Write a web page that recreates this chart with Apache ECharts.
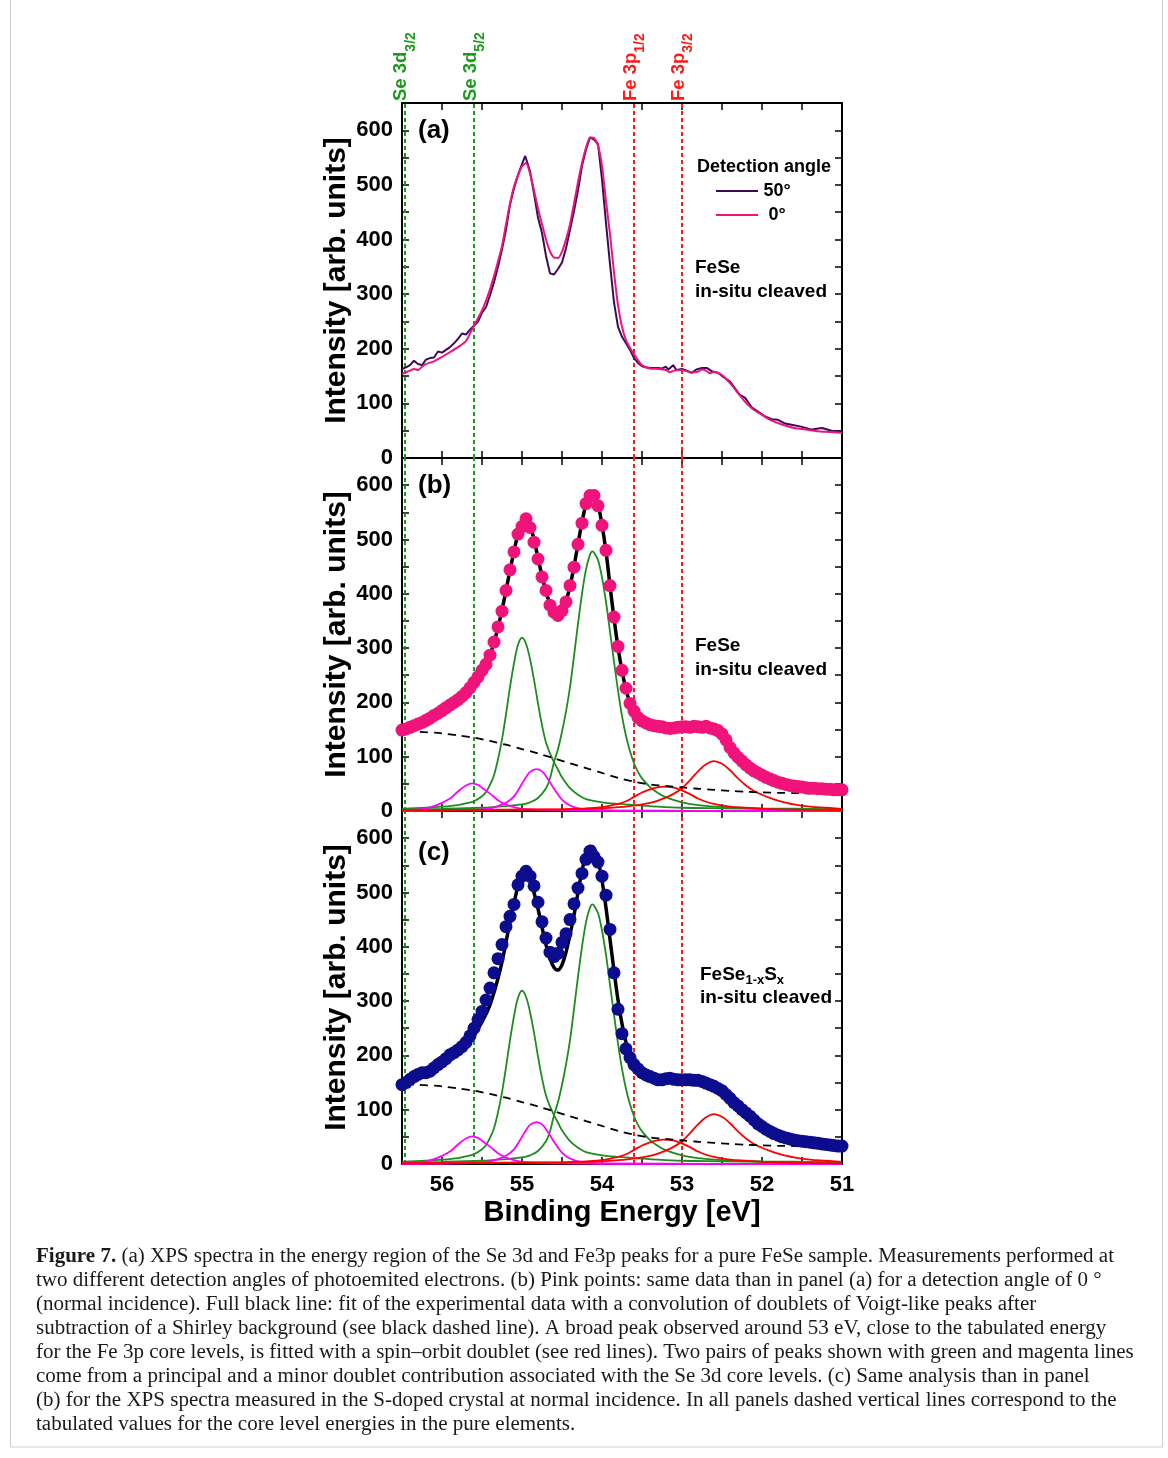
<!DOCTYPE html>
<html>
<head>
<meta charset="utf-8">
<script src="https://cdn.jsdelivr.net/npm/echarts@6.0.0/dist/echarts.min.js"></script>
<style>
  html, body { margin: 0; padding: 0; background: #fff; }
  #chart { width: 1168px; height: 1458px; }
</style>
</head>
<body>
<div id="chart"></div>
<script>
// binding energy grid of the measured points (eV), panels (b) and (c)
const energyGrid = [
  56.5, 56.45, 56.4, 56.35, 56.3, 56.25, 56.2, 56.15, 56.1, 56.05,
  56, 55.95, 55.9, 55.85, 55.8, 55.75, 55.7, 55.65, 55.6, 55.55,
  55.5, 55.45, 55.4, 55.35, 55.3, 55.25, 55.2, 55.15, 55.1, 55.05,
  55, 54.95, 54.9, 54.85, 54.8, 54.75, 54.7, 54.65, 54.6, 54.55,
  54.5, 54.45, 54.4, 54.35, 54.3, 54.25, 54.2, 54.15, 54.1, 54.05,
  54, 53.95, 53.9, 53.85, 53.8, 53.75, 53.7, 53.65, 53.6, 53.55,
  53.5, 53.45, 53.4, 53.35, 53.3, 53.25, 53.2, 53.15, 53.1, 53.05,
  53, 52.95, 52.9, 52.85, 52.8, 52.75, 52.7, 52.65, 52.6, 52.55,
  52.5, 52.45, 52.4, 52.35, 52.3, 52.25, 52.2, 52.15, 52.1, 52.05,
  52, 51.95, 51.9, 51.85, 51.8, 51.75, 51.7, 51.65, 51.6, 51.55,
  51.5, 51.45, 51.4, 51.35, 51.3, 51.25, 51.2, 51.15, 51.1, 51.05,
  51
];

// (b) FeSe, 0 deg, pink points
const pinkDots = [
  149, 151, 154, 157, 160, 163, 167, 171, 176, 180,
  185, 190, 195, 200, 205, 211, 218, 227, 237, 247,
  259, 270, 287, 311, 339, 368, 406, 444, 477, 510,
  524, 538, 522, 495, 464, 431, 406, 379, 366, 360,
  369, 385, 415, 449, 491, 530, 566, 581, 581, 562,
  526, 480, 415, 357, 303, 259, 226, 198, 184, 172,
  166, 162, 159, 157, 156, 155, 153, 152, 153, 154,
  155, 155, 154, 156, 155, 154, 156, 153, 151, 148,
  142, 131, 117, 107, 99, 92, 85, 79, 74, 70,
  66, 62, 59, 56, 53, 51, 49, 47, 46, 45,
  44, 43, 42, 42, 41, 41, 40, 40, 39, 39,
  39
];

// (c) FeSe1-xSx, blue points
const blueDots = [
  146, 150, 156, 161, 165, 168, 168, 171, 177, 183,
  188, 194, 201, 205, 210, 216, 224, 236, 250, 266,
  281, 302, 324, 352, 378, 404, 437, 456, 478, 514,
  530, 539, 530, 512, 482, 446, 416, 390, 382, 388,
  408, 424, 450, 479, 508, 535, 561, 576, 566, 556,
  530, 495, 432, 352, 285, 240, 212, 196, 183, 175,
  168, 164, 161, 158, 155, 155, 157, 158, 156, 155,
  155, 155, 155, 154, 154, 152, 149, 146, 143, 139,
  135, 128, 121, 113, 107, 100, 94, 88, 81, 74,
  69, 64, 60, 56, 53, 50, 48, 46, 44, 43,
  42, 41, 40, 39, 38, 37, 36, 35, 34, 33,
  33
];

// (a) detection angle 50 deg  [energy, intensity]
const angle50 = [
  [56.5, 163], [56.45, 166], [56.4, 170], [56.35, 178], [56.3, 172], [56.25, 170], [56.2, 180],
  [56.15, 183], [56.1, 184], [56.05, 195], [56, 193], [55.95, 198], [55.9, 203], [55.85, 210],
  [55.8, 218], [55.75, 228], [55.7, 226], [55.65, 235], [55.6, 242], [55.55, 250], [55.5, 266],
  [55.45, 276], [55.4, 298], [55.35, 322], [55.3, 350], [55.25, 382], [55.2, 418], [55.15, 464],
  [55.1, 494], [55.05, 518], [55, 538], [54.96, 553], [54.9, 525], [54.85, 484], [54.8, 440],
  [54.75, 412], [54.7, 370], [54.65, 338], [54.6, 336], [54.55, 346], [54.5, 358], [54.45, 384],
  [54.4, 418], [54.35, 452], [54.3, 490], [54.25, 535], [54.2, 565], [54.15, 587], [54.1, 583],
  [54.05, 575], [54, 510], [53.95, 430], [53.9, 355], [53.85, 285], [53.8, 240], [53.75, 222],
  [53.7, 210], [53.65, 198], [53.6, 183], [53.55, 174], [53.5, 168], [53.45, 166], [53.4, 165],
  [53.3, 165], [53.25, 164], [53.2, 167], [53.17, 162], [53.11, 170], [53.07, 161], [53, 163],
  [52.94, 160], [52.88, 156], [52.82, 162], [52.75, 165], [52.69, 165], [52.63, 159], [52.55, 156],
  [52.48, 148], [52.4, 140], [52.34, 128], [52.28, 116], [52.21, 110], [52.13, 93], [52.05, 85],
  [51.96, 76], [51.88, 71], [51.8, 70], [51.71, 63], [51.63, 61], [51.5, 57], [51.38, 52],
  [51.25, 55], [51.13, 50], [51, 49]
];

// (a) detection angle 0 deg
const angle0 = [
  [56.5, 154], [56.45, 157], [56.4, 160], [56.35, 163], [56.3, 161], [56.25, 167], [56.2, 172],
  [56.1, 177], [56, 185], [55.9, 194], [55.8, 203], [55.7, 214], [55.65, 228], [55.6, 242],
  [55.55, 256], [55.5, 270], [55.45, 288], [55.4, 309], [55.35, 333], [55.3, 360], [55.25, 388],
  [55.2, 428], [55.15, 466], [55.1, 497], [55.05, 518], [55, 534], [54.95, 540], [54.9, 521],
  [54.85, 490], [54.8, 457], [54.75, 428], [54.7, 400], [54.65, 378], [54.6, 367], [54.55, 366],
  [54.5, 378], [54.45, 400], [54.4, 428], [54.35, 466], [54.3, 505], [54.25, 540], [54.2, 568],
  [54.15, 587], [54.1, 586], [54.05, 572], [54, 535], [53.95, 470], [53.9, 410], [53.85, 340],
  [53.8, 280], [53.75, 240], [53.7, 216], [53.65, 202], [53.6, 190], [53.5, 170], [53.4, 164],
  [53.3, 163], [53.2, 161], [53.15, 157], [53.1, 160], [53, 161], [52.9, 157], [52.8, 158],
  [52.75, 162], [52.7, 160], [52.65, 155], [52.6, 158], [52.5, 152], [52.4, 137], [52.3, 119],
  [52.2, 101], [52.1, 88], [52, 79], [51.9, 70], [51.8, 64], [51.7, 59], [51.6, 55], [51.5, 53],
  [51.4, 51], [51.3, 49], [51.2, 48], [51.1, 47], [51, 46]
];

// full fit, panel (b)
const fitB = [
  [56.5, 149], [56.4, 154], [56.3, 160], [56.2, 167], [56.1, 175], [56, 184], [55.9, 194],
  [55.8, 205], [55.7, 218], [55.6, 236], [55.5, 259], [55.45, 272], [55.4, 288], [55.35, 310],
  [55.3, 338], [55.25, 370], [55.2, 406], [55.15, 443], [55.1, 478], [55.05, 510], [55, 530],
  [54.95, 537], [54.9, 526], [54.85, 500], [54.8, 466], [54.75, 433], [54.7, 404], [54.65, 381],
  [54.6, 366], [54.55, 362], [54.5, 368], [54.45, 386], [54.4, 414], [54.35, 450], [54.3, 492],
  [54.25, 532], [54.2, 565], [54.15, 583], [54.1, 584], [54.05, 565], [54, 527], [53.95, 478],
  [53.9, 415], [53.85, 355], [53.8, 302], [53.75, 258], [53.7, 224], [53.65, 199], [53.6, 183],
  [53.5, 166], [53.4, 159], [53.3, 156], [53.2, 154], [53.1, 153], [53, 154], [52.9, 155],
  [52.8, 155], [52.7, 154], [52.6, 150], [52.5, 140], [52.4, 119], [52.3, 100], [52.2, 86],
  [52.1, 75], [52, 66], [51.9, 59], [51.8, 53], [51.7, 49], [51.6, 46], [51.5, 44], [51.4, 42],
  [51.3, 41], [51.2, 40], [51.1, 39], [51, 39]
];

// full fit, panel (c)
const fitC = [
  [56.5, 146], [56.4, 152], [56.3, 158], [56.2, 165], [56.1, 173], [56, 182], [55.9, 192],
  [55.8, 204], [55.7, 218], [55.6, 236], [55.5, 262], [55.45, 276], [55.4, 293], [55.35, 316],
  [55.3, 342], [55.25, 372], [55.2, 409], [55.15, 445], [55.1, 480], [55.05, 512], [55, 532],
  [54.95, 540], [54.9, 528], [54.85, 500], [54.8, 470], [54.75, 436], [54.7, 404], [54.65, 378],
  [54.6, 362], [54.55, 357], [54.5, 367], [54.45, 390], [54.4, 422], [54.35, 458], [54.3, 500],
  [54.25, 540], [54.2, 570], [54.15, 585], [54.1, 582], [54.05, 560], [54, 522], [53.95, 472],
  [53.9, 414], [53.85, 356], [53.8, 302], [53.75, 258], [53.7, 224], [53.65, 200], [53.6, 185],
  [53.5, 168], [53.4, 160], [53.3, 156], [53.2, 155], [53.1, 155], [53, 155], [52.9, 156],
  [52.8, 156], [52.7, 154], [52.6, 148], [52.5, 137], [52.4, 120], [52.3, 103], [52.2, 88],
  [52.1, 76], [52, 66], [51.9, 57], [51.8, 51], [51.7, 46], [51.6, 42], [51.5, 39], [51.4, 37],
  [51.3, 35], [51.2, 34], [51.1, 33], [51, 32]
];

// Shirley background (dashed)
const shirleyBg = [
  [56.45, 147], [56.3, 146], [56, 143], [55.8, 139], [55.6, 135], [55.4, 129], [55.2, 122],
  [55, 114], [54.8, 106], [54.6, 97], [54.4, 88], [54.2, 79], [54, 70], [53.8, 61], [53.6, 54],
  [53.4, 49], [53.2, 46], [53, 43.5], [52.8, 41], [52.6, 39], [52.4, 37], [52.2, 35.5],
  [52, 34.5], [51.8, 33.5], [51.6, 33], [51.4, 32.5]
];

// Se 3d principal doublet (green)
const seMajorA = [
  [56.5, 4], [56.2, 6], [56, 8], [55.8, 11], [55.7, 14], [55.6, 18], [55.5, 27], [55.45, 35],
  [55.4, 48], [55.35, 66], [55.3, 95], [55.25, 132], [55.2, 178], [55.15, 228], [55.1, 272],
  [55.05, 306], [55, 319], [54.95, 308], [54.9, 280], [54.85, 242], [54.8, 198], [54.75, 158],
  [54.7, 126], [54.65, 106], [54.6, 90], [54.55, 76], [54.5, 62], [54.4, 42], [54.3, 30],
  [54.2, 22], [54, 16], [53.8, 13], [53.6, 11], [53.3, 8], [53, 6], [52.5, 5], [52, 4],
  [51.5, 3], [51, 3]
];
const seMajorB = [
  [56.5, 3], [56, 4], [55.5, 6], [55.2, 9], [55, 12], [54.9, 16], [54.8, 24], [54.7, 42],
  [54.65, 60], [54.6, 90], [54.55, 114], [54.5, 146], [54.45, 183], [54.4, 228], [54.35, 285],
  [54.3, 345], [54.25, 400], [54.2, 445], [54.15, 472], [54.12, 478], [54.1, 476], [54.05, 462],
  [54, 430], [53.95, 385], [53.9, 330], [53.85, 275], [53.8, 222], [53.75, 175], [53.7, 138],
  [53.65, 110], [53.6, 88], [53.55, 72], [53.5, 60], [53.4, 44], [53.3, 33], [53.2, 25],
  [53, 16], [52.8, 11], [52.5, 7], [52, 5], [51, 3]
];

// Se 3d minor doublet (magenta)
const seMinorA = [
  [56.5, 1.5], [56.3, 3], [56.2, 5], [56.1, 9], [56, 15], [55.9, 23], [55.8, 36], [55.7, 47],
  [55.62, 51], [55.55, 48], [55.5, 43], [55.4, 32], [55.3, 20], [55.2, 12], [55.1, 7], [55, 4],
  [54.8, 2], [54.5, 1], [54, 0.5], [51, 0]
];
const seMinorB = [
  [56.5, 0], [56, 0.5], [55.6, 2], [55.4, 5], [55.3, 9], [55.2, 15], [55.1, 27], [55, 50],
  [54.95, 62], [54.9, 72], [54.82, 77], [54.75, 73], [54.7, 64], [54.6, 41], [54.5, 21],
  [54.4, 10], [54.3, 5], [54.2, 3], [54, 1], [53.5, 0.5], [51, 0]
];

// Fe 3p doublet (red)
const feA = [
  [56.5, 1], [55.5, 2], [55, 3], [54.5, 3], [54.2, 5], [54, 7], [53.8, 13], [53.7, 18],
  [53.6, 26], [53.5, 34], [53.4, 40], [53.3, 44], [53.23, 45], [53.1, 43], [53, 38], [52.9, 31],
  [52.8, 23], [52.7, 17], [52.6, 13], [52.4, 8], [52.2, 6], [52, 4], [51.5, 2], [51, 1]
];
const feB = [
  [56.5, 1], [55, 2], [54.5, 3], [54, 5], [53.8, 7], [53.6, 10], [53.4, 15], [53.3, 19],
  [53.2, 25], [53.1, 32], [53, 42], [52.9, 57], [52.8, 73], [52.7, 86], [52.6, 92], [52.5, 87],
  [52.4, 75], [52.3, 60], [52.2, 47], [52.1, 37], [52, 30], [51.9, 24], [51.8, 19], [51.6, 12],
  [51.4, 8], [51.2, 6], [51, 4]
];

// tabulated core level energies (dotted verticals)
const coreLevels = [56.47, 55.6, 53.6, 53.0];
const coreNames = ['Se 3d', 'Se 3d', 'Fe 3p', 'Fe 3p'];
const coreSubs = ['3/2', '5/2', '1/2', '3/2'];

const captionLines = [
  ' (a) XPS spectra in the energy region of the Se 3d and Fe3p peaks for a pure FeSe sample. Measurements performed at',
  'two different detection angles of photoemited electrons. (b) Pink points: same data than in panel (a) for a detection angle of 0 °',
  '(normal incidence). Full black line: fit of the experimental data with a convolution of doublets of Voigt-like peaks after',
  'subtraction of a Shirley background (see black dashed line). A broad peak observed around 53 eV, close to the tabulated energy',
  'for the Fe 3p core levels, is fitted with a spin\u2013orbit doublet (see red lines). Two pairs of peaks shown with green and magenta lines',
  'come from a principal and a minor doublet contribution associated with the Se 3d core levels. (c) Same analysis than in panel',
  '(b) for the XPS spectra measured in the S-doped crystal at normal incidence. In all panels dashed vertical lines correspond to the',
  'tabulated values for the core level energies in the pure elements.'
];

const FONT = '"Liberation Sans", Arial, sans-serif';
const SERIF = '"Liberation Serif", "Times New Roman", serif';
const GREEN_GUIDE = '#1c9a1c';
const RED_GUIDE = '#ff1a1a';
const PINK = '#f0147a';
const PURPLE = '#3c0a5a';
const NAVY = '#0c0c8e';
const PANELS = [{ top: 103, height: 355 }, { top: 458, height: 353 }, { top: 811, height: 353 }];

const chart = echarts.init(document.getElementById('chart'));

function xAxes(i) {
  const base = {
    type: 'value', gridIndex: i, min: 51, max: 56.5, interval: 0.5, inverse: true,
    axisLine: { show: true, onZero: false, lineStyle: { color: '#000', width: 2 } },
    axisTick: { show: true, inside: true, length: 7, lineStyle: { color: '#000', width: 1.5 } },
    splitLine: { show: false }
  };
  return [
    Object.assign({}, base, {
      position: 'bottom',
      axisLabel: {
        show: i === 2, margin: 10, color: '#000', fontSize: 22, fontWeight: 'bold', fontFamily: FONT,
        formatter: v => (Math.abs(v - Math.round(v)) < 1e-6 && v < 56.4 ? String(Math.round(v)) : '')
      }
    }),
    Object.assign({}, base, { position: 'top', axisLabel: { show: false } })
  ];
}

function yAxes(i) {
  const base = {
    type: 'value', gridIndex: i, min: 0, max: 650, interval: 50,
    axisLine: { show: true, onZero: false, lineStyle: { color: '#000', width: 2 } },
    axisTick: { show: true, inside: true, length: 7, lineStyle: { color: '#000', width: 1.5 } },
    splitLine: { show: false }
  };
  return [
    Object.assign({}, base, {
      position: 'left',
      axisLabel: {
        margin: 9, color: '#000', fontSize: 22, fontWeight: 'bold', fontFamily: FONT,
        formatter: v => (v % 100 === 0 && v <= 600 ? String(v) : '')
      }
    }),
    Object.assign({}, base, { position: 'right', axisLabel: { show: false } })
  ];
}

function curve(panel, data, color, width, extra) {
  return Object.assign({
    type: 'line', data: data, xAxisIndex: panel * 2, yAxisIndex: panel * 2,
    symbol: 'none', lineStyle: { color: color, width: width }, itemStyle: { color: color }, z: 2
  }, extra || {});
}

function guides(panel) {
  return {
    type: 'line', data: [], xAxisIndex: panel * 2, yAxisIndex: panel * 2, silent: true,
    markLine: {
      z: 1, silent: true, symbol: ['none', 'none'], label: { show: false },
      emphasis: { disabled: true },
      data: coreLevels.map((e, k) => ({
        xAxis: e, lineStyle: { color: k < 2 ? GREEN_GUIDE : RED_GUIDE, type: [4, 3], width: 2 }
      }))
    }
  };
}

function components(panel) {
  return [
    curve(panel, seMajorA, '#1e8c1e', 1.8, { smooth: 0.35 }),
    curve(panel, seMajorB, '#1e8c1e', 1.8, { smooth: 0.35 }),
    curve(panel, seMinorA, '#ff00ff', 1.8, { smooth: 0.35 }),
    curve(panel, seMinorB, '#ff00ff', 1.8, { smooth: 0.35 }),
    curve(panel, feA, '#ff0000', 1.8, { smooth: 0.35 }),
    curve(panel, feB, '#ff0000', 1.8, { smooth: 0.35 }),
    curve(panel, shirleyBg, '#000', 1.8, { smooth: 0.3, lineStyle: { color: '#000', width: 1.8, type: [8, 6] } })
  ];
}

function dots(panel, values, color) {
  return {
    type: 'scatter', xAxisIndex: panel * 2, yAxisIndex: panel * 2, z: 4,
    data: values.map((v, k) => [energyGrid[k], v]),
    symbol: 'circle', symbolSize: 13, itemStyle: { color: color, opacity: 1 }
  };
}

const option = {
  animation: false,
  backgroundColor: '#fff',
  textStyle: { fontFamily: FONT },
  grid: PANELS.map(p => ({ left: 402, width: 440, top: p.top, height: p.height, show: false })),
  xAxis: [].concat(xAxes(0), xAxes(1), xAxes(2)),
  yAxis: [].concat(yAxes(0), yAxes(1), yAxes(2)),
  legend: {
    data: ['50°', '0°'], orient: 'vertical', left: 716, top: 182, padding: 0,
    icon: 'rect', itemWidth: 42, itemHeight: 2, itemGap: 6, selectedMode: false,
    formatter: '{c|{name}}',
    textStyle: {
      color: '#000', fontSize: 18, fontWeight: 'bold', fontFamily: FONT,
      rich: { c: { width: 28, align: 'center', fontSize: 18, fontWeight: 'bold', fontFamily: FONT, color: '#000' } }
    }
  },
  series: [
    guides(0),
    curve(0, angle50, PURPLE, 2, { name: '50°' }),
    curve(0, angle0, PINK, 2, { name: '0°', smooth: 0.2 }),

    guides(1)
  ].concat(components(1), [
    curve(1, fitB, '#000', 3.5, { smooth: 0.3 }),
    dots(1, pinkDots, PINK),
    guides(2)
  ], components(2), [
    curve(2, fitC, '#000', 3.5, { smooth: 0.3 }),
    dots(2, blueDots, NAVY)
  ])
};

chart.setOption(option);

// ---- texts and annotations ----
const bold = (size, color) => ({ fontSize: size, fontWeight: 'bold', fontFamily: FONT, fill: color || '#000' });
const graphics = [];

function label(x, y, text, size, extra) {
  graphics.push(Object.assign({
    type: 'text', x: x, y: y, silent: true,
    style: Object.assign({ text: text, align: 'left', verticalAlign: 'middle' }, bold(size))
  }, extra || {}));
}

label(418, 131, '(a)', 26);
label(418, 486, '(b)', 26);
label(418, 853, '(c)', 26);
label(697, 167, 'Detection angle', 18);
label(695, 268, 'FeSe', 19);
label(695, 292, 'in-situ cleaved', 19);
label(695, 646, 'FeSe', 19);
label(695, 669.5, 'in-situ cleaved', 19);
label(700, 997.5, 'in-situ cleaved', 19);
graphics.push({
  type: 'text', x: 700, y: 975, silent: true,
  style: {
    text: '{m|FeSe}{s|1-x}{m|S}{s|x}', align: 'left', verticalAlign: 'middle',
    rich: {
      m: Object.assign(bold(19), { lineHeight: 24, verticalAlign: 'middle' }),
      s: Object.assign(bold(13), { lineHeight: 13, verticalAlign: 'bottom' })
    }
  }
});

// y titles
PANELS.forEach(p => {
  graphics.push({
    type: 'text', x: 337, y: p.top + p.height / 2, rotation: Math.PI / 2, silent: true,
    style: Object.assign({ text: 'Intensity [arb. units]', align: 'center', verticalAlign: 'middle' }, bold(30))
  });
});
// x title
graphics.push({
  type: 'text', x: 622, y: 1213, silent: true,
  style: Object.assign({ text: 'Binding Energy [eV]', align: 'center', verticalAlign: 'middle' }, bold(29))
});

// core level labels above panel (a)
coreLevels.forEach((e, k) => {
  const px = chart.convertToPixel({ xAxisIndex: 0 }, e);
  const color = k < 2 ? GREEN_GUIDE : RED_GUIDE;
  graphics.push({
    type: 'text', x: px - 3.5, y: 101, rotation: Math.PI / 2, silent: true,
    style: {
      text: '{m|' + coreNames[k] + '}{s|' + coreSubs[k] + '}', align: 'left', verticalAlign: 'middle',
      rich: {
        m: Object.assign(bold(18.5, color), { lineHeight: 34, verticalAlign: 'middle' }),
        s: Object.assign(bold(14, color), { lineHeight: 14, verticalAlign: 'bottom' })
      }
    }
  });
});

// caption
const ctx = document.createElement('canvas').getContext('2d');
ctx.font = 'bold 20px ' + SERIF;
let w1 = ctx.measureText('Figure 7.').width;
ctx.font = '20px ' + SERIF;
w1 += ctx.measureText(captionLines[0]).width;
const capScale = 1078 / w1;
captionLines.forEach((line, k) => {
  graphics.push({
    type: 'text', x: 36, y: 1257 + k * 24, scaleX: capScale, silent: true,
    style: {
      text: (k === 0 ? '{b|Figure 7.}' : '') + line,
      align: 'left', verticalAlign: 'middle',
      fontSize: 20, fontFamily: SERIF, fill: '#1a1a1a',
      rich: { b: { fontSize: 20, fontFamily: SERIF, fontWeight: 'bold', fill: '#1a1a1a' } }
    }
  });
});

// page border
graphics.push({
  type: 'rect', silent: true, z: -1,
  shape: { x: 10.5, y: -2, width: 1152, height: 1449 },
  style: { fill: 'none', stroke: '#cfcfcf', lineWidth: 1 }
});

chart.setOption({ graphic: graphics });
</script>
</body>
</html>
